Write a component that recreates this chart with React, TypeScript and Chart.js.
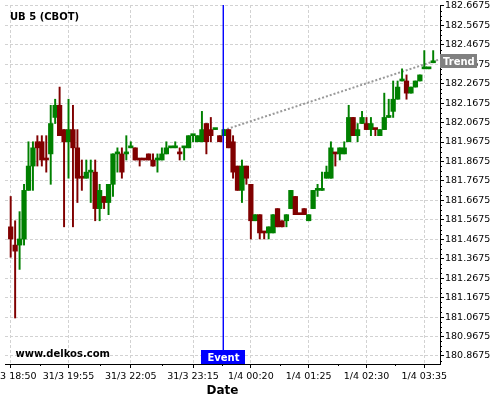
import React, { useEffect, useRef } from "react";
import { Chart, registerables } from "chart.js";

Chart.register(...registerables);

const CHART_TITLE = "UB 5 (CBOT)";
const WATERMARK = "www.delkos.com";
const X_TITLE = "Date";
const EVENT_LABEL = "Event";
const TREND_LABEL = "Trend";

// 5-minute bars, index 0 = 31/3 18:50
const opens = [
  181.5313, 181.4375, 181.4375, 181.4688, 181.7188, 181.8438, 181.9688, 181.9688, 181.875, 181.9063,
  182.0938, 182.1563, 182.0313, 181.9688, 182.0313, 181.9375, 181.7813, 181.7813, 181.8125, 181.8125,
  181.625, 181.6875, 181.6563, 181.75, 181.9063, 181.9063, 181.9063, 181.9375, 181.9375, 181.875,
  181.875, 181.9063, 181.875, 181.875, 181.875, 181.9063, 181.9375, 181.9375, 181.9063, 181.9375,
  181.9375, 182.0, 181.9688, 181.9688, 182.0625, 182.0313, 182.0313, 182.0, 182.0, 182.0313,
  181.9688, 181.8438, 181.7188, 181.8438, 181.75, 181.5625, 181.5938, 181.5, 181.5, 181.5,
  181.625, 181.5625, 181.5625, 181.625, 181.6875, 181.5938, 181.625, 181.5625, 181.625, 181.7188,
  181.7188, 181.7813, 181.7813, 181.9063, 181.9063, 181.9063, 181.9688, 182.0938, 182.0, 182.0625,
  182.0625, 182.0313, 182.0313, 182.0, 182.0313, 182.0938, 182.125, 182.1875, 182.2813, 182.2813,
  182.2188, 182.25, 182.2813, 182.3438, 182.3438, 182.375,
];
const highs = [
  181.6875, 181.5625, 181.6094, 181.75, 181.9688, 181.9688, 182.0, 182.0, 182.0, 182.1563,
  182.1875, 182.25, 182.0313, 182.1875, 182.1563, 182.0313, 181.875, 181.875, 181.875, 181.875,
  181.75, 181.6875, 181.75, 181.9063, 181.9375, 181.9375, 182.0, 181.9688, 181.9375, 181.875,
  181.875, 181.9063, 181.9063, 181.9063, 181.9375, 181.9688, 181.9375, 181.9688, 181.9375, 181.9375,
  182.0, 182.0, 182.0, 182.125, 182.0625, 182.0938, 182.0313, 182.0, 182.0313, 182.0313,
  182.0, 181.8438, 181.875, 181.8438, 181.75, 181.5938, 181.5938, 181.5, 181.5313, 181.5938,
  181.625, 181.5625, 181.5938, 181.7188, 181.6875, 181.5938, 181.625, 181.5938, 181.7188, 181.75,
  181.8125, 181.8438, 181.9688, 181.9063, 181.9375, 181.9688, 182.1563, 182.0938, 182.0625, 182.125,
  182.0938, 182.0938, 182.0313, 182.0313, 182.2188, 182.1875, 182.2813, 182.2813, 182.3438, 182.3125,
  182.25, 182.2813, 182.3125, 182.4375, 182.3438, 182.4375,
];
const lows = [
  181.375, 181.0625, 181.3125, 181.4375, 181.7188, 181.7188, 181.8438, 181.8438, 181.8125, 181.75,
  182.0625, 182.0, 181.5313, 181.7813, 181.5313, 181.6563, 181.7188, 181.7813, 181.6563, 181.5625,
  181.5625, 181.625, 181.5938, 181.6875, 181.8125, 181.7813, 181.875, 181.9375, 181.875, 181.8438,
  181.875, 181.875, 181.8438, 181.8125, 181.875, 181.9063, 181.9375, 181.9375, 181.875, 181.875,
  181.9375, 181.9688, 181.9688, 181.9688, 181.9063, 181.9688, 182.0313, 181.9688, 182.0, 181.9375,
  181.7813, 181.7188, 181.6563, 181.75, 181.4688, 181.5625, 181.4688, 181.4688, 181.4688, 181.5,
  181.5313, 181.5313, 181.5313, 181.625, 181.5938, 181.5938, 181.5938, 181.5625, 181.625, 181.6875,
  181.7188, 181.7813, 181.7813, 181.8438, 181.875, 181.9063, 181.9688, 182.0, 181.9688, 182.0625,
  182.0313, 182.0, 182.0, 182.0, 182.0313, 182.0938, 182.0938, 182.1875, 182.2813, 182.1875,
  182.2188, 182.25, 182.2813, 182.3438, 182.3438, 182.375,
];
const closes = [
  181.4688, 181.4063, 181.4688, 181.7188, 181.8438, 181.9375, 181.9375, 181.875, 181.875, 182.0625,
  182.1563, 182.0, 181.9688, 182.0313, 181.9375, 181.7813, 181.7813, 181.8125, 181.8125, 181.625,
  181.7188, 181.6563, 181.75, 181.9063, 181.9063, 181.8125, 181.9063, 181.9375, 181.875, 181.875,
  181.875, 181.875, 181.8438, 181.875, 181.9063, 181.9375, 181.9375, 181.9375, 181.9063, 181.9375,
  182.0, 182.0, 182.0, 182.0313, 181.9688, 182.0, 182.0313, 181.9688, 182.0313, 181.9375,
  181.8125, 181.7188, 181.8438, 181.7813, 181.5625, 181.5938, 181.5, 181.5, 181.5313, 181.5938,
  181.5313, 181.5313, 181.5938, 181.7188, 181.5938, 181.5938, 181.5938, 181.5938, 181.7188, 181.7188,
  181.7188, 181.8125, 181.9375, 181.9063, 181.9375, 181.9375, 182.0938, 182.0, 182.0313, 182.0938,
  182.0313, 182.0625, 182.0313, 182.0313, 182.0938, 182.0938, 182.1875, 182.25, 182.2813, 182.2188,
  182.25, 182.2813, 182.3125, 182.3438, 182.3438, 182.375,
];
// unchanged (open == close) bars that are drawn as down bars
const downFlatBars = [8, 16, 29, 30, 38, 57, 65, 73, 82];

const xTickIndex = [0, 13, 27, 41, 54, 67, 80, 93];
const xTickLabels = [
  "31/3 18:50", "31/3 19:55", "31/3 22:05", "31/3 23:15",
  "1/4 00:20", "1/4 01:25", "1/4 02:30", "1/4 03:35",
];
const yTickValues = [
  182.6675, 182.5675, 182.4675, 182.3675, 182.2675, 182.1675, 182.0675,
  181.9675, 181.8675, 181.7675, 181.6675, 181.5675, 181.4675, 181.3675,
  181.2675, 181.1675, 181.0675, 180.9675, 180.8675,
];
const eventIndex = 47.8;
const trendX = [47.8, 96.53];
const trendY = [182.028, 182.393];

const X_MIN = -1.28;
const X_MAX = 96.53;
const Y_MIN = 180.826;
const Y_MAX = 182.672;

const UP = "#008000";
const DOWN = "#800000";
const GRID = "#d2d2d2";
const FONT = "'DejaVu Sans', sans-serif";

const overlay = {
  id: "overlay",
  afterDatasetsDraw(chart: any) {
    const { ctx, chartArea, scales } = chart;
    const ex = scales.x.getPixelForValue(eventIndex);
    ctx.save();
    ctx.strokeStyle = "#0000ff";
    ctx.lineWidth = 1.4;
    ctx.beginPath();
    ctx.moveTo(ex, chartArea.top);
    ctx.lineTo(ex, chartArea.bottom);
    ctx.stroke();
    ctx.restore();
  },
  afterDraw(chart: any) {
    const { ctx, chartArea, scales } = chart;
    const { x, y } = scales;
    ctx.save();
    // minor ticks on x axis
    ctx.strokeStyle = "#000";
    ctx.lineWidth = 1;
    ctx.beginPath();
    for (let k = 0; k < xTickIndex.length - 1; k++) {
      const px = Math.round(x.getPixelForValue((xTickIndex[k] + xTickIndex[k + 1]) / 2)) + 0.5;
      ctx.moveTo(px, chartArea.bottom);
      ctx.lineTo(px, chartArea.bottom + 2);
    }
    // minor ticks on y axis
    for (const v of yTickValues) {
      for (let k = 1; k <= 3; k++) {
        const val = v - k * 0.025;
        if (val < Y_MIN) continue;
        const py = Math.round(y.getPixelForValue(val)) + 0.5;
        ctx.moveTo(chartArea.right, py);
        ctx.lineTo(chartArea.right + 2, py);
      }
    }
    for (let k = 1; k <= 3; k++) {
      const val = yTickValues[0] + k * 0.025;
      if (val > Y_MAX) continue;
      const py = Math.round(y.getPixelForValue(val)) + 0.5;
      ctx.moveTo(chartArea.right, py);
      ctx.lineTo(chartArea.right + 2, py);
    }
    ctx.stroke();

    // title
    ctx.fillStyle = "#000";
    ctx.font = `bold 10px ${FONT}`;
    ctx.textAlign = "left";
    ctx.textBaseline = "alphabetic";
    ctx.fillText(CHART_TITLE, 10, 19.5);
    // watermark
    ctx.fillText(WATERMARK, 15.5, 357);

    // event box
    const ex = x.getPixelForValue(eventIndex);
    ctx.fillStyle = "#0000ff";
    ctx.fillRect(Math.round(ex) - 22, chartArea.bottom - 14, 44, 14);
    ctx.fillStyle = "#fff";
    ctx.textAlign = "center";
    ctx.fillText(EVENT_LABEL, Math.round(ex) + 0.5, chartArea.bottom - 3);

    // trend box
    const ty = y.getPixelForValue(trendY[trendY.length - 1]);
    ctx.fillStyle = "#808080";
    ctx.fillRect(chartArea.right, Math.round(ty) - 5, 37, 14);
    ctx.fillStyle = "#fff";
    ctx.textAlign = "left";
    ctx.fillText(TREND_LABEL, chartArea.right + 3, Math.round(ty) + 6);
    ctx.restore();
  },
};

export default function App() {
  const ref = useRef<HTMLCanvasElement>(null);
  useEffect(() => {
    const canvas = ref.current;
    if (!canvas) return;
    const idx = opens.map((_, i) => i);
    const colors = idx.map((i) => {
      if (closes[i] > opens[i]) return UP;
      if (closes[i] < opens[i]) return DOWN;
      return downFlatBars.includes(i) ? DOWN : UP;
    });
    const chart = new Chart(canvas, {
      type: "bar",
      data: {
        datasets: [
          {
            type: "line",
            data: trendX.map((xv, k) => ({ x: xv, y: trendY[k] })),
            borderColor: "#999999",
            borderWidth: 2,
            borderDash: [2, 2],
            pointRadius: 0,
            fill: false,
            order: 3,
          } as any,
          {
            type: "bar",
            data: idx.map((i) => ({ x: i, y: [lows[i], highs[i]] })),
            backgroundColor: colors,
            barThickness: 1.3,
            grouped: false,
            borderWidth: 0,
            order: 2,
          } as any,
          {
            type: "bar",
            data: idx.map((i) => ({ x: i, y: [opens[i], closes[i]] })),
            backgroundColor: colors,
            barThickness: 4.6,
            minBarLength: 2,
            grouped: false,
            borderWidth: 0,
            order: 1,
          } as any,
        ],
      },
      options: {
        responsive: false,
        animation: false,
        devicePixelRatio: 1,
        events: [],
        layout: { padding: { top: 5, left: 5, right: 0, bottom: 0 } },
        plugins: { legend: { display: false }, tooltip: { enabled: false } },
        scales: {
          x: {
            type: "linear",
            position: "bottom",
            min: X_MIN,
            max: X_MAX,
            offset: false,
            afterBuildTicks: (s: any) => {
              s.ticks = xTickIndex.map((v) => ({ value: v }));
            },
            afterFit: (s: any) => {
              s.height = 36;
              s.paddingLeft = 0;
              s.paddingRight = 0;
            },
            ticks: {
              autoSkip: false,
              maxRotation: 0,
              color: "#000",
              padding: 3,
              font: { family: FONT, size: 9.5 },
              callback: (_v: any, i: number) => xTickLabels[i],
            },
            grid: { color: GRID, offset: false, tickColor: "#000", tickLength: 4, lineWidth: 1 },
            border: { display: true, color: "#000", width: 1, dash: [3, 2] },
            title: {
              display: true,
              text: X_TITLE,
              color: "#000",
              font: { family: FONT, size: 12, weight: "bold" },
              padding: { top: 0, bottom: 2 },
            },
          },
          y: {
            type: "linear",
            position: "right",
            min: Y_MIN,
            max: Y_MAX,
            afterBuildTicks: (s: any) => {
              s.ticks = yTickValues.map((v) => ({ value: v }));
            },
            afterFit: (s: any) => {
              s.width = 60;
              s.paddingTop = 0;
              s.paddingBottom = 0;
            },
            ticks: {
              color: "#000",
              padding: 1,
              font: { family: FONT, size: 9.5 },
              callback: (v: any) => Number(v).toFixed(4),
            },
            grid: { color: GRID, tickColor: "#000", tickLength: 4, lineWidth: 1 },
            border: { display: true, color: "#000", width: 1, dash: [3, 2] },
          },
        },
      },
      plugins: [overlay],
    } as any);
    return () => chart.destroy();
  }, []);
  return (
    <div style={{ position: "fixed", left: 0, top: 0, width: 500, height: 400, background: "#fff" }}>
      <canvas ref={ref} width={500} height={400} style={{ display: "block" }} />
    </div>
  );
}
